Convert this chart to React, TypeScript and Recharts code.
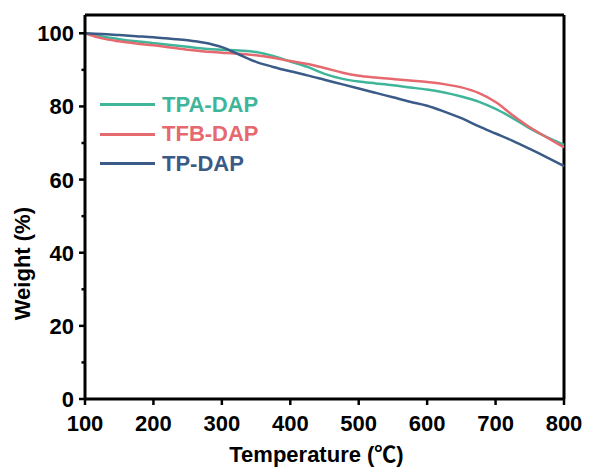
import React from 'react';
import { LineChart, Line, XAxis, YAxis, Legend, ReferenceLine } from 'recharts';

const temperatures = [100, 125, 150, 175, 200, 225, 250, 275, 300, 325, 350, 375, 400, 425, 450, 475, 500, 525, 550, 575, 600, 625, 650, 675, 700, 725, 750, 775, 800];
const tpaDap = [100, 99.1, 98.4, 97.8, 97.3, 96.8, 96.3, 95.8, 95.5, 95.3, 94.9, 93.8, 92.3, 90.8, 88.9, 87.6, 86.8, 86.3, 85.8, 85.2, 84.6, 83.8, 82.7, 81.3, 79.3, 76.8, 74.0, 71.6, 69.5];
const tfbDap = [100, 98.6, 97.8, 97.2, 96.7, 96.1, 95.5, 95.0, 94.7, 94.4, 94.0, 93.3, 92.4, 91.6, 90.5, 89.3, 88.4, 87.9, 87.5, 87.1, 86.7, 86.1, 85.2, 83.7, 81.2, 77.6, 74.3, 71.5, 68.8];
const tpDap = [100, 99.8, 99.5, 99.2, 98.9, 98.5, 98.1, 97.4, 96.2, 94.2, 92.2, 90.8, 89.6, 88.5, 87.3, 86.1, 84.9, 83.7, 82.5, 81.3, 80.2, 78.6, 76.8, 74.6, 72.6, 70.6, 68.4, 66.1, 63.7];

const xTicks = [100, 200, 300, 400, 500, 600, 700, 800];
const yTicks = [0, 10, 20, 30, 40, 50, 60, 70, 80, 90, 100];
const yMajor = [0, 20, 40, 60, 80, 100];
const xMax = 800;
const yMax = 105;

const seriesNames = ['TPA-DAP', 'TFB-DAP', 'TP-DAP'];
const colors = ['#3fb59a', '#e5696e', '#3a5b87'];

const data = temperatures.map((t, i) => ({ t, a: tpaDap[i], b: tfbDap[i], c: tpDap[i] }));

const FONT = '"Liberation Sans", Arial, "Noto Sans CJK SC", sans-serif';

const XTick = (props: any) => {
  const { x, y, payload } = props;
  return (
    <g>
      <line x1={x} x2={x} y1={y} y2={y + 6} stroke="#000" strokeWidth={2.5} />
      <text x={x} y={y + 32} textAnchor="middle" fontFamily={FONT} fontWeight="bold" fontSize={22} fill="#000">
        {payload.value}
      </text>
    </g>
  );
};

const YTick = (props: any) => {
  const { x, y, payload } = props;
  const major = yMajor.includes(payload.value);
  return (
    <g>
      <line x1={x} x2={x - (major ? 6 : 3.5)} y1={y} y2={y} stroke="#000" strokeWidth={2.5} />
      {major && (
        <text x={x - 11} y={y + 8} textAnchor="end" fontFamily={FONT} fontWeight="bold" fontSize={22} fill="#000">
          {payload.value}
        </text>
      )}
    </g>
  );
};

const LegendContent = () => (
  <div style={{ fontFamily: FONT }}>
    {seriesNames.map((n, i) => (
      <div key={n} style={{ display: 'flex', alignItems: 'center', height: 29.5 }}>
        <div style={{ width: 55, height: 3, background: colors[i], marginRight: 7 }} />
        <span style={{ color: colors[i], fontWeight: 'bold', fontSize: 22, lineHeight: '22px' }}>{n}</span>
      </div>
    ))}
  </div>
);

export default function App() {
  return (
    <div style={{ position: 'absolute', left: 0, top: 0, background: '#fff' }}>
      <LineChart width={589} height={468} data={data} margin={{ top: 15, right: 25, bottom: 9, left: 25 }}>
        <XAxis
          dataKey="t"
          type="number"
          domain={[100, xMax]}
          ticks={xTicks}
          tickSize={0}
          tickMargin={0}
          tickLine={false}
          tick={<XTick />}
          height={60}
          axisLine={{ stroke: '#000', strokeWidth: 3 }}
          label={{ value: 'Temperature (℃)', position: 'insideBottom', offset: -3, dx: -8, fontFamily: FONT, fontWeight: 'bold', fontSize: 22, fill: '#000' }}
        />
        <YAxis
          type="number"
          domain={[0, yMax]}
          ticks={yTicks}
          interval={0}
          tickSize={0}
          tickMargin={0}
          tickLine={false}
          tick={<YTick />}
          width={60}
          axisLine={{ stroke: '#000', strokeWidth: 3 }}
          label={{ value: 'Weight (%)', angle: -90, position: 'left', offset: 3, fontFamily: FONT, fontWeight: 'bold', fontSize: 22, fill: '#000' }}
        />
        <ReferenceLine y={yMax} stroke="#000" strokeWidth={3} ifOverflow="visible" />
        <ReferenceLine x={xMax} stroke="#000" strokeWidth={3} ifOverflow="visible" />
        <Legend layout="horizontal" verticalAlign="middle" align="center" content={<LegendContent />} wrapperStyle={{ position: 'absolute', left: 100, top: 90, width: 200 }} />
        <Line dataKey="a" name={seriesNames[0]} type="monotone" stroke={colors[0]} strokeWidth={2.5} dot={false} isAnimationActive={false} />
        <Line dataKey="b" name={seriesNames[1]} type="monotone" stroke={colors[1]} strokeWidth={2.5} dot={false} isAnimationActive={false} />
        <Line dataKey="c" name={seriesNames[2]} type="monotone" stroke={colors[2]} strokeWidth={2.5} dot={false} isAnimationActive={false} />
      </LineChart>
    </div>
  );
}
